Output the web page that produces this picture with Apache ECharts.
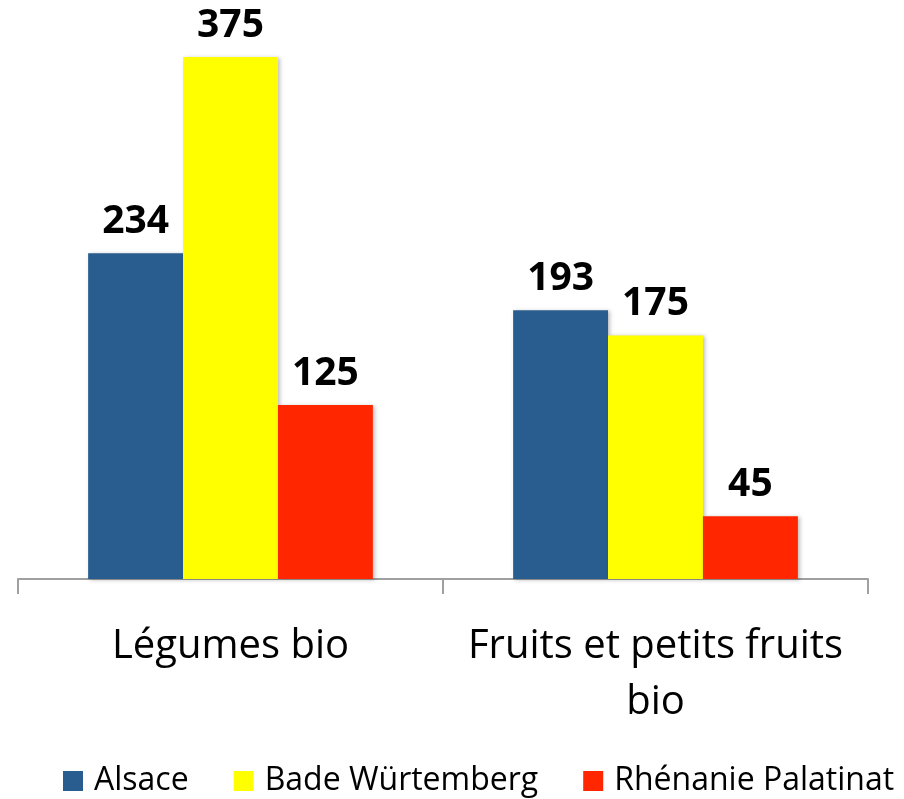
<!DOCTYPE html>
<html>
<head>
<meta charset="utf-8">
<script src="https://cdn.jsdelivr.net/npm/echarts@6/dist/echarts.min.js"></script>
<style>
html,body{margin:0;padding:0;background:#fff;}
#main{width:904px;height:799px;}
</style>
</head>
<body>
<div id="main"></div>
<script>
var categories = ['Légumes bio', 'Fruits et petits fruits\nbio'];
var alsace = [234, 193];
var bade = [375, 175];
var rhenanie = [125, 45];
var seriesNames = ['Alsace', 'Bade Würtemberg', 'Rhénanie Palatinat'];
var colors = ['#2A5D8F', '#FFFF00', '#FF2600'];

var myChart = echarts.init(document.getElementById('main'));

function makeSeries(name, data, color){
    return {
        name: name,
        type: 'bar',
        data: data,
        barGap: 0,
        barCategoryGap: '33%',
        itemStyle: {
            color: color,
            shadowColor: 'rgba(0,0,0,0.25)',
            shadowBlur: 4,
            shadowOffsetX: 2,
            shadowOffsetY: 1
        },
        label: {
            show: true,
            position: 'top',
            distance: 12,
            fontFamily: 'Open Sans',
            fontWeight: 'bold',
            fontSize: 39,
            color: '#000'
        }
    };
}

var option = {
    animation: false,
    textStyle: {fontFamily: 'Open Sans'},
    color: colors,
    grid: {left: 18, right: 36, top: 57, bottom: 220},
    legend: {
        top: 760,
        left: 58,
        itemWidth: 20,
        itemHeight: 20,
        itemGap: 45,
        icon: 'rect',
        textStyle: {fontSize: 32, color: '#000', fontFamily: 'Open Sans', padding: [0, 0, 0, 6]},
        data: seriesNames
    },
    xAxis: {
        type: 'category',
        data: categories,
        axisLine: {lineStyle: {color: '#A0A0A0', width: 2}},
        axisTick: {show: true, length: 15, lineStyle: {color: '#A0A0A0', width: 2}},
        axisLabel: {
            interval: 0,
            fontSize: 40,
            color: '#000',
            lineHeight: 56,
            margin: 40,
            fontFamily: 'Open Sans'
        }
    },
    yAxis: {
        type: 'value',
        min: 0,
        max: 375,
        show: false
    },
    series: [
        makeSeries(seriesNames[0], alsace, colors[0]),
        makeSeries(seriesNames[1], bade, colors[1]),
        makeSeries(seriesNames[2], rhenanie, colors[2])
    ]
};
myChart.setOption(option);
</script>
</body>
</html>
